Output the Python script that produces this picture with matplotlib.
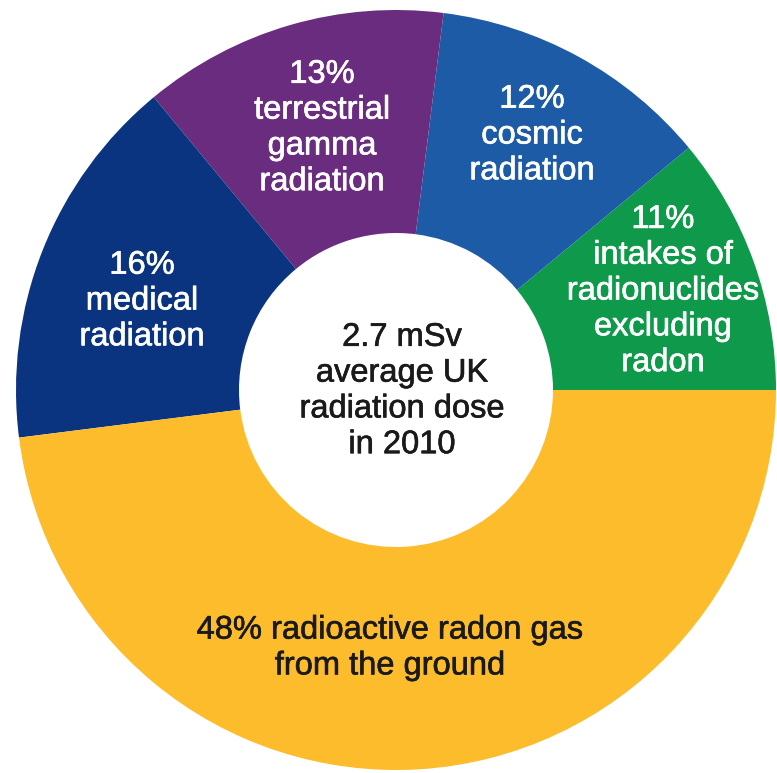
import matplotlib
matplotlib.use("Agg")
import matplotlib.pyplot as plt
import matplotlib.patheffects as pe

# ---- data ----
categories = ["intakes of radionuclides excluding radon", "cosmic radiation",
              "terrestrial gamma radiation", "medical radiation",
              "radioactive radon gas from the ground"]
values = [11, 12, 13, 16, 48]
label_texts = ["11%\nintakes of\nradionuclides\nexcluding\nradon",
               "12%\ncosmic\nradiation",
               "13%\nterrestrial\ngamma\nradiation",
               "16%\nmedical\nradiation",
               "48% radioactive radon gas\nfrom the ground"]
center_text = "2.7 mSv\naverage UK\nradiation dose\nin 2010"
colors = ["#0f9a4b", "#1d5ba6", "#6a2c7e", "#0b3480", "#fcbc2b"]
text_colors = ["white", "white", "white", "white", "#1a1a1a"]

# ---- layout ----
W, H = 777, 773
CX, CY, R = 396, 390, 380   # pixel centre / radius of donut
HOLE = 157
label_px = [(663, 291), (532, 135), (322, 128), (142, 301), (390, 648)]
center_px = (402, 391)

fig = plt.figure(figsize=(W / 100, H / 100), dpi=100)
ax = fig.add_axes([0, 0, 1, 1])

ax.pie(values, colors=colors, startangle=0, counterclock=True, radius=1.0,
       wedgeprops=dict(width=1 - HOLE / R, linewidth=0, antialiased=True))
ax.set_aspect("auto")
ax.set_xlim(-CX / R, (W - CX) / R)
ax.set_ylim(-(H - CY) / R, CY / R)
ax.axis("off")


def px2d(px, py):
    return ((px - CX) / R, (CY - py) / R)


font = ["Liberation Sans", "DejaVu Sans"]
FS = 23.5
LS = 1.2
for txt, (px, py), tc in zip(label_texts, label_px, text_colors):
    x, y = px2d(px, py)
    ax.text(x, y, txt, ha="center", va="center", color=tc, fontsize=FS,
            family=font, linespacing=LS, multialignment="center",
            path_effects=[pe.withStroke(linewidth=0.45, foreground=tc)])

x, y = px2d(*center_px)
ax.text(x, y, center_text, ha="center", va="center", color="#1a1a1a",
        fontsize=FS, family=font, linespacing=LS, multialignment="center",
        path_effects=[pe.withStroke(linewidth=0.45, foreground="#1a1a1a")])

fig.savefig("out.png", dpi=100, facecolor="white")
